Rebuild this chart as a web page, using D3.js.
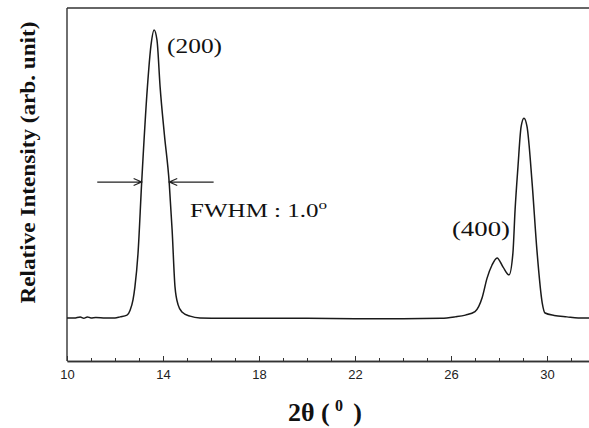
<!DOCTYPE html>
<html>
<head>
<meta charset="utf-8">
<script src="https://cdn.jsdelivr.net/npm/d3@7"></script>
<style>
    body { margin: 0; background: #fff; }
    svg { display: block; }
    .serif { font-family: "Liberation Serif", "Times New Roman", serif; fill: #111; }
    .x-axis text { font-family: "Liberation Sans", Arial, sans-serif; font-size: 13px; fill: #222; }
</style>
</head>
<body>
<div id="chart-area"></div>
<script>
// XRD pattern (2θ in degrees, intensity in arb. units 0-100)
const twoTheta = [10.0, 10.3, 10.55, 10.7, 10.85, 11.0, 11.2, 11.6, 12.0, 12.21, 12.5, 12.63, 12.75, 12.83, 12.96,
    13.11, 13.35, 13.5, 13.63, 13.75, 13.88, 14.06, 14.26, 14.38, 14.5, 14.63, 14.79, 15.13, 15.54,
    16.5, 18.0, 20.0, 22.0, 24.0, 25.6, 26.17, 26.6, 27.0, 27.3, 27.5, 27.71, 27.92, 28.17, 28.42,
    28.58, 28.67, 28.79, 28.92, 29.04, 29.17, 29.38, 29.58, 29.8, 29.92, 30.3, 30.83, 31.3, 31.75];
const intensity = [12.2, 12.2, 12.5, 12.1, 12.5, 12.2, 12.3, 12.2, 12.2, 12.5, 13.0, 14.4, 17.3, 21.0, 30.6,
    50.4, 77.6, 89.5, 93.8, 90.9, 77.6, 64.0, 50.4, 37.1, 21.0, 15.9, 13.9, 12.7, 12.2,
    12.1, 12.1, 12.1, 12.0, 12.0, 12.1, 12.5, 13.0, 14.0, 18.0, 23.4, 27.2, 29.2, 26.6, 24.4,
    30.6, 42.8, 55.0, 66.3, 68.8, 66.3, 50.4, 31.4, 16.5, 13.6, 12.9, 12.5, 12.2, 12.2];
const majorTicks = [10, 14, 18, 22, 26, 30];
const minorTicks = d3.range(10, 32, 1);
const peakLabels = [
    { text: "(200)", x: 14.17, y: 87.3, len: 55 },
    { text: "(400)", x: 26.04, y: 35.4, len: 58 }
];
const fwhm = { left: 13.11, right: 14.26, level: 50.7, value: "1.0" };

const chartSize = { width: 589, height: 428 };
const margin = { left: 67, right: 0, top: 8, bottom: 67 };
const height = chartSize.height - margin.top - margin.bottom;

const x = d3.scaleLinear().domain([10, 32]).range([margin.left, margin.left + 22 * 24]);
const y = d3.scaleLinear().domain([0, 100]).range([margin.top + height, margin.top]);

const svg = d3.select("#chart-area").append("svg")
    .attr("width", chartSize.width)
    .attr("height", chartSize.height);

// frame: top and left lines only (right side runs off the page)
svg.append("line")
    .attr("x1", x(10)).attr("x2", chartSize.width)
    .attr("y1", y(100)).attr("y2", y(100))
    .attr("stroke", "#333").attr("stroke-width", 1.6);
svg.append("line")
    .attr("x1", x(10)).attr("x2", x(10))
    .attr("y1", y(100)).attr("y2", y(0))
    .attr("stroke", "#333").attr("stroke-width", 1.4);

// x axis: minor ticks then labelled major ticks, both pointing inward
const minorAxis = d3.axisBottom(x).tickValues(minorTicks).tickSize(-3).tickSizeOuter(0).tickFormat("");
svg.append("g").attr("class", "x-minor")
    .attr("transform", `translate(0,${y(0)})`)
    .call(minorAxis);
const xAxis = d3.axisBottom(x).tickValues(majorTicks).tickSize(-5).tickSizeOuter(0).tickPadding(9);
svg.append("g").attr("class", "x-axis")
    .attr("transform", `translate(0,${y(0)})`)
    .call(xAxis);
svg.selectAll(".x-axis path, .x-minor path").attr("stroke", "#333").attr("stroke-width", 1.5);
svg.selectAll(".x-axis line, .x-minor line").attr("stroke", "#333").attr("stroke-width", 1);

// pattern
const pts = twoTheta.map((t, i) => [t, intensity[i]]);
const line = d3.line().x(d => x(d[0])).y(d => y(d[1])).curve(d3.curveMonotoneX);
svg.append("path")
    .attr("d", line(pts))
    .attr("fill", "none")
    .attr("stroke", "#1a1a1a")
    .attr("stroke-width", 1.5)
    .attr("stroke-linejoin", "round");

// peak labels
svg.selectAll(".peak-label").data(peakLabels).enter().append("text")
    .attr("class", "serif peak-label")
    .attr("x", d => x(d.x))
    .attr("y", d => y(d.y))
    .attr("font-size", 20)
    .attr("textLength", d => d.len)
    .attr("lengthAdjust", "spacingAndGlyphs")
    .text(d => d.text);

// FWHM arrows
const arrowLen = 1.85;
const arrow = (from, to) => {
    const ay = y(fwhm.level);
    const x0 = x(from), x1 = x(to);
    const dir = x1 > x0 ? -1 : 1;
    return `M${x0},${ay}L${x1},${ay}M${x1 + dir * 8},${ay - 3.5}L${x1},${ay}L${x1 + dir * 8},${ay + 3.5}`;
};
[[fwhm.left - arrowLen, fwhm.left], [fwhm.right + arrowLen, fwhm.right]].forEach(([a, b]) => {
    svg.append("path")
        .attr("d", arrow(a, b))
        .attr("fill", "none")
        .attr("stroke", "#222")
        .attr("stroke-width", 1.2);
});
const fw = svg.append("text")
    .attr("class", "serif")
    .attr("x", x(15.13))
    .attr("y", y(40.8))
    .attr("font-size", 19)
    .attr("textLength", 137)
    .attr("lengthAdjust", "spacingAndGlyphs");
fw.append("tspan").text(`FWHM : ${fwhm.value}`);
fw.append("tspan").attr("font-size", 13).attr("dy", -8).text("o");

// axis titles
svg.append("text")
    .attr("class", "serif")
    .attr("transform", `translate(35,${(y(100) + y(0)) / 2 - 22}) rotate(-90)`)
    .attr("text-anchor", "middle")
    .attr("font-size", 22)
    .attr("font-weight", "bold")
    .attr("textLength", 282)
    .attr("lengthAdjust", "spacingAndGlyphs")
    .text("Relative Intensity (arb. unit)");

const xt = svg.append("text")
    .attr("class", "serif")
    .attr("x", 288)
    .attr("y", 421)
    .attr("font-size", 26)
    .attr("font-weight", "bold");
xt.append("tspan").text("2θ (\u2009");
xt.append("tspan").attr("font-size", 16).attr("dy", -10).text("0");
xt.append("tspan").attr("dy", 10).text("\u2009\u2009)");
</script>
</body>
</html>
